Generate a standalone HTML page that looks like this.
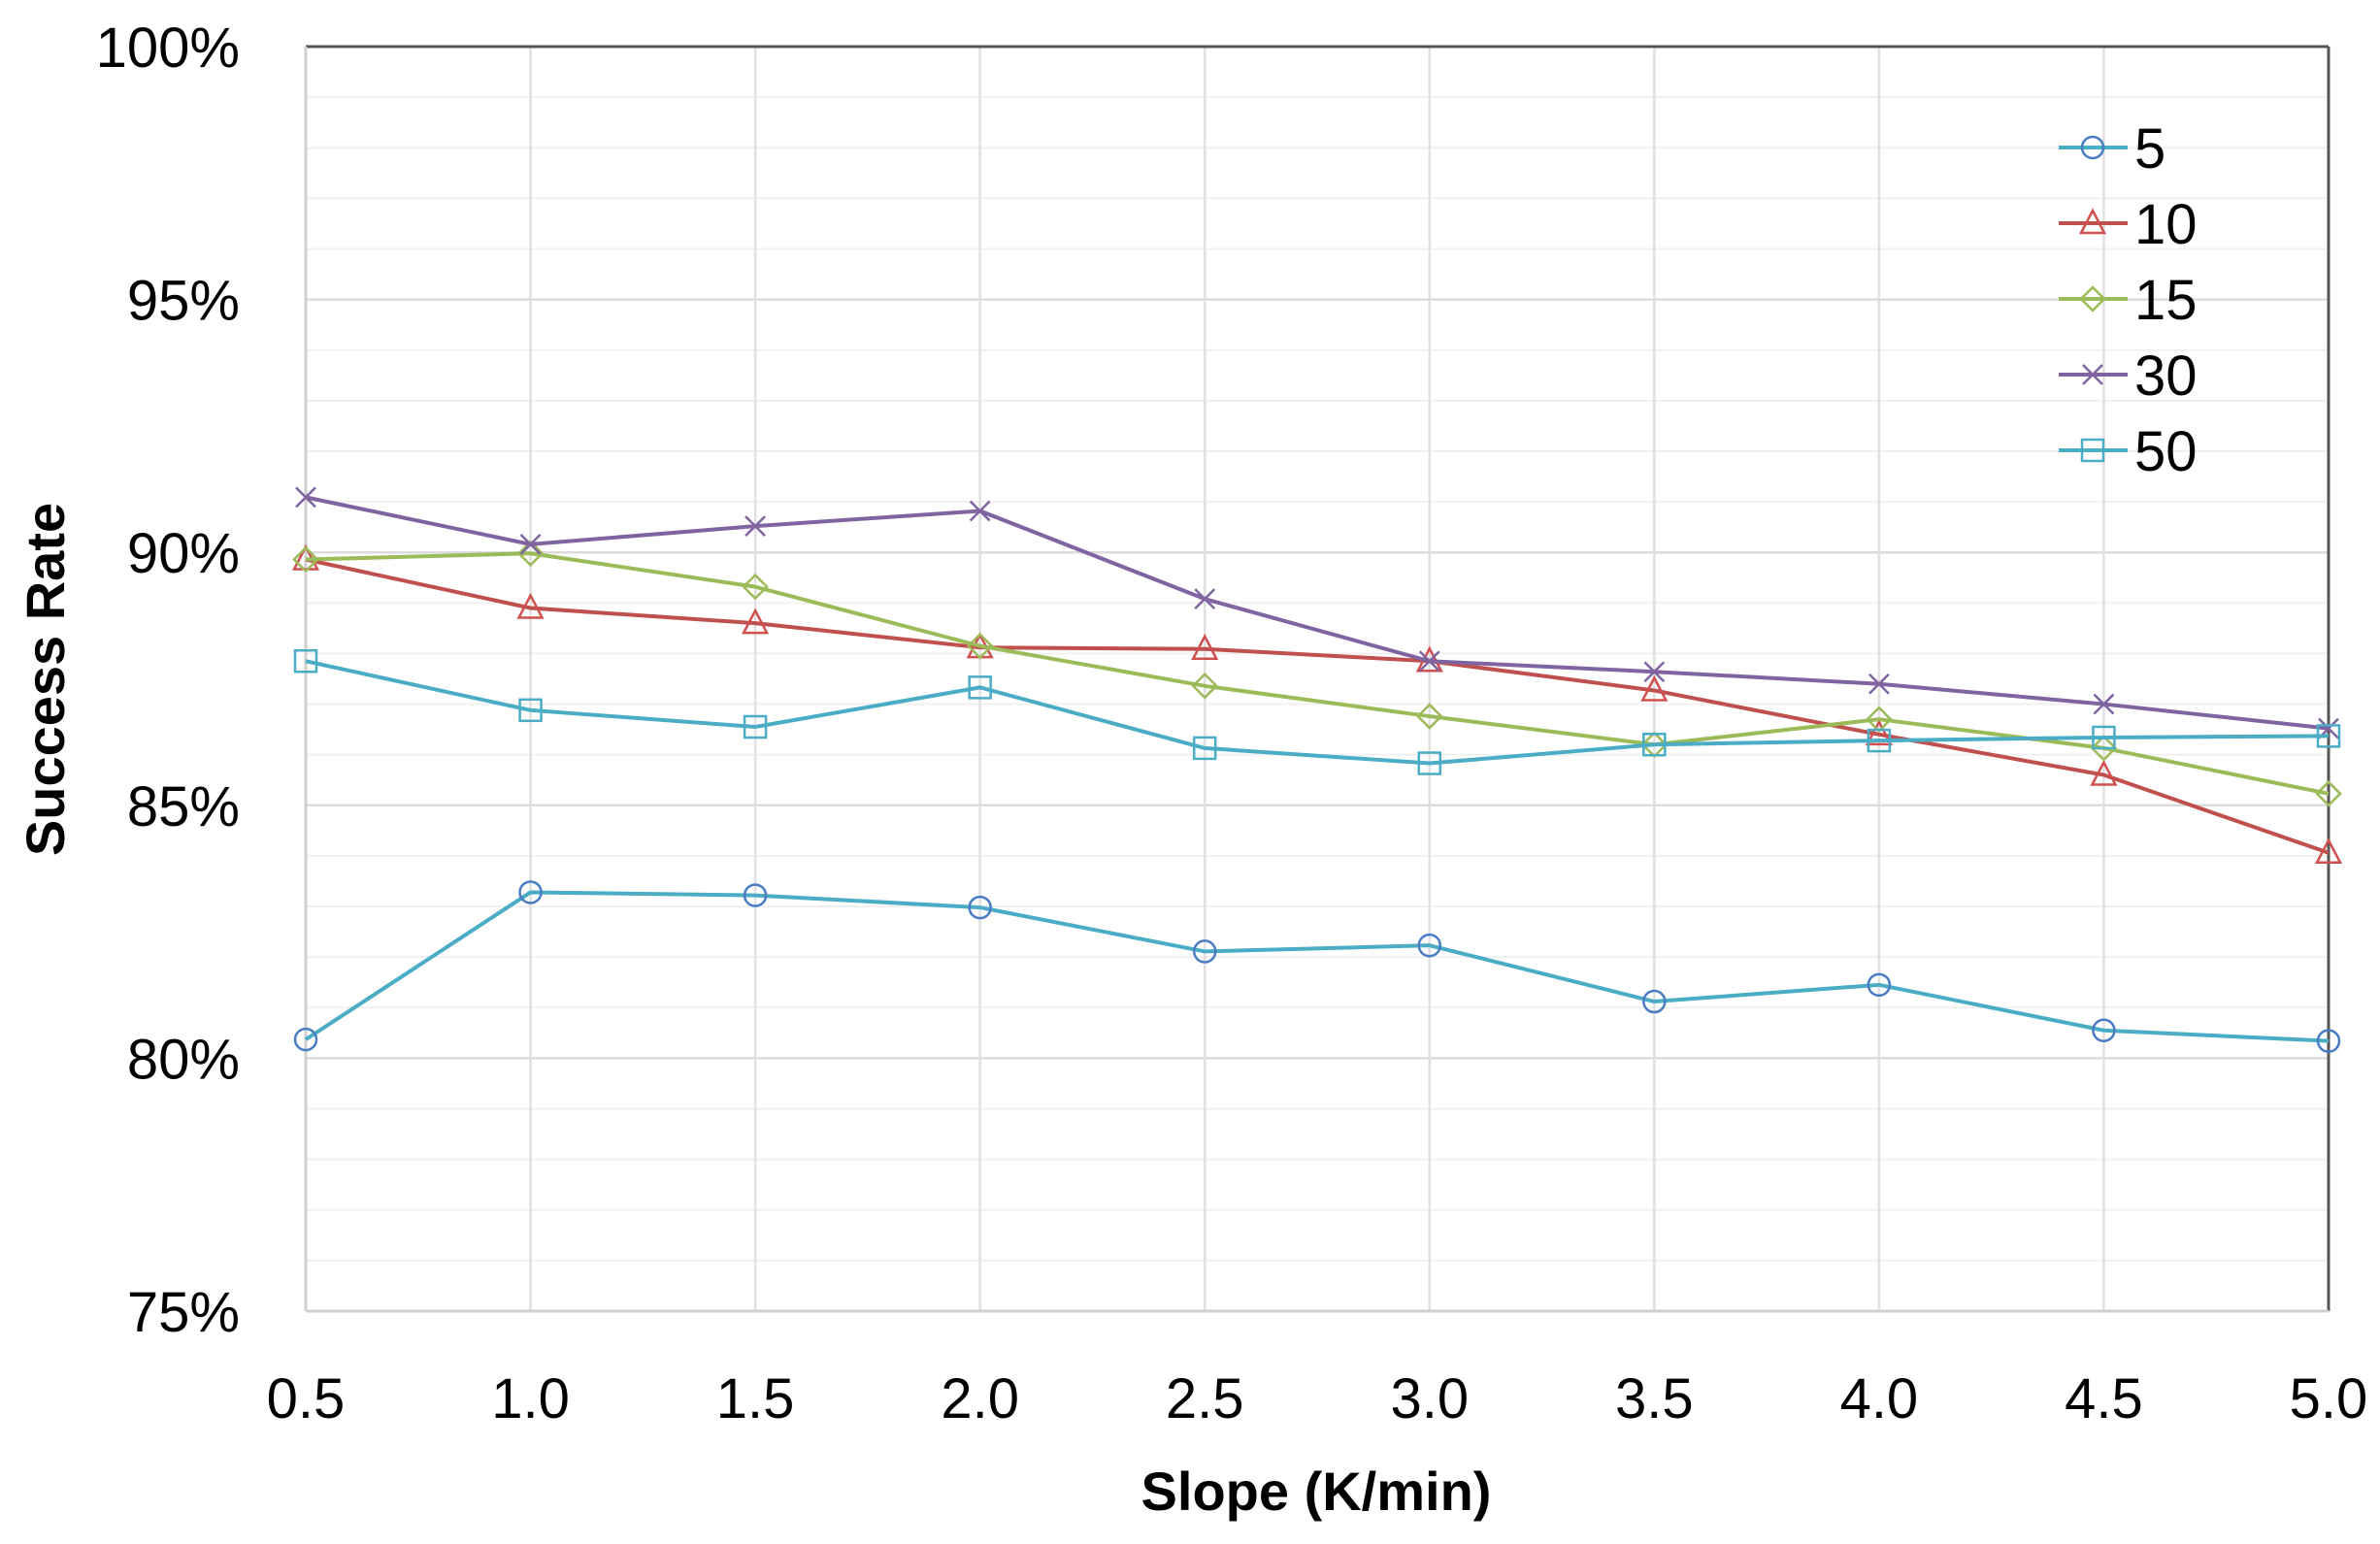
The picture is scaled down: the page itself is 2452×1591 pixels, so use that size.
<!DOCTYPE html>
<html><head><meta charset="utf-8"><style>
html,body{margin:0;padding:0;background:#fff;}
svg{display:block;font-family:"Liberation Sans",sans-serif;}
</style></head><body>
<svg id="s" width="2452" height="1591" xmlns="http://www.w3.org/2000/svg"></svg>
<script>
const s=document.getElementById('s');
const L=315,R=2399,T=48,B=1351;
const X=v=>L+(v-0.5)/4.5*(R-L);
const Y=v=>T+(100-v)/25*(B-T);
let h='';
for(let p=76;p<100;p++){ if(p%5) h+=`<line x1="${L}" x2="${R}" y1="${Y(p)}" y2="${Y(p)}" stroke="#f0f0f0" stroke-width="2"/>`;}
for(let p=80;p<100;p+=5) h+=`<line x1="${L}" x2="${R}" y1="${Y(p)}" y2="${Y(p)}" stroke="#dcdcdc" stroke-width="2.5"/>`;
for(let i=1;i<9;i++){const x=X(0.5+i*0.5);h+=`<line x1="${x}" x2="${x}" y1="${T}" y2="${B}" stroke="#e0e0e0" stroke-width="2.5"/>`;}
h+=`<line x1="${L}" x2="${R}" y1="${T}" y2="${T}" stroke="#555" stroke-width="3"/>`;
h+=`<line x1="${R}" x2="${R}" y1="${T}" y2="${B}" stroke="#555" stroke-width="3"/>`;
h+=`<line x1="${L}" x2="${L}" y1="${T}" y2="${B}" stroke="#d0d0d0" stroke-width="3"/>`;
h+=`<line x1="${L}" x2="${R}" y1="${B}" y2="${B}" stroke="#d0d0d0" stroke-width="3"/>`;
for(let p=75;p<=100;p+=5) h+=`<text x="247" y="${Y(p)+21}" font-size="58" text-anchor="end">${p}%</text>`;
for(let i=0;i<10;i++){const v=0.5+i*0.5;h+=`<text x="${X(v)}" y="1461" font-size="58" text-anchor="middle">${v.toFixed(1)}</text>`;}
h+=`<text x="1356" y="1556" font-size="56" font-weight="bold" text-anchor="middle">Slope (K/min)</text>`;
h+=`<text transform="translate(66,700) rotate(-90)" font-size="56" font-weight="bold" text-anchor="middle">Success Rate</text>`;
const S=[
 {n:'5',c:'#4bacc6',mc:'#4a7cc4',m:'o',d:[80.37,83.28,83.22,82.98,82.11,82.23,81.12,81.45,80.55,80.34]},
 {n:'10',c:'#c0504d',mc:'#d05050',m:'t',d:[89.86,88.9,88.6,88.12,88.09,87.85,87.27,86.4,85.6,84.06]},
 {n:'15',c:'#9bbb59',mc:'#9bbb59',m:'d',d:[89.86,89.98,89.32,88.15,87.36,86.76,86.2,86.7,86.13,85.23]},
 {n:'30',c:'#8064a2',mc:'#8064a2',m:'x',d:[91.09,90.16,90.52,90.82,89.08,87.85,87.64,87.4,87.0,86.52]},
 {n:'50',c:'#4bacc6',mc:'#4bacc6',m:'s',d:[87.85,86.88,86.55,87.33,86.13,85.83,86.2,86.28,86.34,86.37]}];
function mk(m,x,y,c){
 const st=`fill="none" stroke="${c}" stroke-width="2.5"`;
 if(m=='o')return `<circle cx="${x}" cy="${y}" r="11" ${st}/>`;
 if(m=='s')return `<rect x="${x-11}" y="${y-11}" width="22" height="22" ${st}/>`;
 if(m=='t')return `<polygon points="${x},${y-13} ${x+12},${y+10} ${x-12},${y+10}" ${st}/>`;
 if(m=='d')return `<polygon points="${x},${y-12} ${x+12},${y} ${x},${y+12} ${x-12},${y}" ${st}/>`;
 return `<path d="M${x-10} ${y-10}L${x+10} ${y+10}M${x-10} ${y+10}L${x+10} ${y-10}" ${st}/>`;
}
S.forEach((o,k)=>{
 const pts=o.d.map((v,i)=>X(0.5+i*0.5)+','+Y(v)).join(' ');
 h+=`<polyline points="${pts}" fill="none" stroke="${o.c}" stroke-width="4" stroke-linejoin="round"/>`;
 o.d.forEach((v,i)=>h+=mk(o.m,X(0.5+i*0.5),Y(v),o.mc));
 const ly=152+k*78;
 h+=`<line x1="2121" x2="2192" y1="${ly}" y2="${ly}" stroke="${o.c}" stroke-width="4"/>`;
 h+=mk(o.m,2156,ly,o.mc);
 h+=`<text x="2199" y="${ly+21}" font-size="58">${o.n}</text>`;
});
s.innerHTML=h;
</script>
</body></html>
